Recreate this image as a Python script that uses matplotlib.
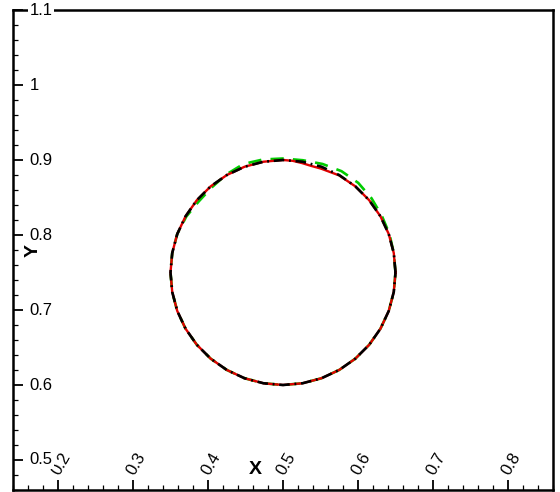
"""Interface shape comparison plot (Tecplot style)."""

import matplotlib

matplotlib.use("Agg")

import matplotlib.pyplot as plt
from matplotlib.ticker import MultipleLocator

plt.rcParams["font.family"] = ["Liberation Sans", "DejaVu Sans"]

# Black dash-dot curve (reference circle)
black_x = [0.65, 0.6477, 0.6410, 0.6299, 0.6149, 0.5964, 0.5750, 0.5513, 0.5260, 0.5,
           0.4740, 0.4487, 0.4250, 0.4036, 0.3851, 0.3701, 0.3590, 0.3523, 0.35,
           0.3523, 0.3590, 0.3701, 0.3851, 0.4036, 0.4250, 0.4487, 0.4740, 0.5,
           0.5260, 0.5513, 0.5750, 0.5964, 0.6149, 0.6299, 0.6410, 0.6477, 0.65]
black_y = [0.75, 0.7760, 0.8013, 0.8250, 0.8464, 0.8649, 0.8799, 0.8910, 0.8977, 0.9,
           0.8977, 0.8910, 0.8799, 0.8649, 0.8464, 0.8250, 0.8013, 0.7760, 0.75,
           0.7240, 0.6987, 0.6750, 0.6536, 0.6351, 0.6201, 0.6090, 0.6023, 0.6,
           0.6023, 0.6090, 0.6201, 0.6351, 0.6536, 0.6750, 0.6987, 0.7240, 0.75]

# Green dashed curve
green_x = [0.65, 0.6477, 0.6419, 0.6316, 0.6180, 0.6003, 0.5780, 0.5527, 0.5264, 0.5,
           0.4734, 0.4473, 0.4245, 0.4049, 0.3874, 0.3710, 0.3590, 0.3523, 0.35,
           0.3523, 0.3590, 0.3701, 0.3851, 0.4036, 0.4250, 0.4487, 0.4740, 0.5,
           0.5260, 0.5513, 0.5750, 0.5964, 0.6149, 0.6299, 0.6410, 0.6477, 0.65]
green_y = [0.75, 0.7760, 0.8016, 0.8260, 0.8490, 0.8695, 0.8851, 0.8947, 0.8997, 0.902,
           0.9007, 0.8947, 0.8808, 0.8634, 0.8445, 0.8245, 0.8013, 0.7760, 0.75,
           0.7240, 0.6987, 0.6750, 0.6536, 0.6351, 0.6201, 0.6090, 0.6023, 0.6,
           0.6023, 0.6090, 0.6201, 0.6351, 0.6536, 0.6750, 0.6987, 0.7240, 0.75]

# Red solid curve (small dent on the upper right)
red_x = [0.65, 0.6477, 0.6410, 0.6299, 0.6149, 0.5964, 0.5748, 0.5504, 0.5380, 0.5257,
         0.5130, 0.5, 0.4740, 0.4487, 0.4250, 0.4036, 0.3851, 0.3701, 0.3590, 0.3523,
         0.35, 0.3523, 0.3590, 0.3701, 0.3851, 0.4036, 0.4250, 0.4487, 0.4740, 0.5,
         0.5260, 0.5513, 0.5750, 0.5964, 0.6149, 0.6299, 0.6410, 0.6477, 0.65]
red_y = [0.75, 0.7760, 0.8013, 0.8250, 0.8464, 0.8649, 0.8795, 0.8886, 0.8920, 0.8958,
         0.8989, 0.9, 0.8977, 0.8910, 0.8799, 0.8649, 0.8464, 0.8250, 0.8013, 0.7760,
         0.75, 0.7240, 0.6987, 0.6750, 0.6536, 0.6351, 0.6201, 0.6090, 0.6023, 0.6,
         0.6023, 0.6090, 0.6201, 0.6351, 0.6536, 0.6750, 0.6987, 0.7240, 0.75]

x_ticks = [0.2, 0.3, 0.4, 0.5, 0.6, 0.7, 0.8]
x_tick_labels = ["0.2", "0.3", "0.4", "0.5", "0.6", "0.7", "0.8"]
y_ticks = [0.5, 0.6, 0.7, 0.8, 0.9, 1.0, 1.1]
y_tick_labels = ["0.5", "0.6", "0.7", "0.8", "0.9", "1", "1.1"]

fig = plt.figure(figsize=(5.6, 4.92), dpi=100)
ax = fig.add_axes([13 / 560, 2 / 492, 540 / 560, 480 / 492])
ax.set_xlim(0.14, 0.86)
ax.set_ylim(0.46, 1.1)

ax.plot(green_x, green_y, color="#00cc00", linewidth=1.9,
        linestyle=(0, (5, 3.5)), zorder=2)
ax.plot(red_x, red_y, color="#e00000", linewidth=1.7, zorder=3)
ax.plot(black_x, black_y, color="black", linewidth=1.9,
        linestyle=(0, (4, 1.8, 0.7, 1.8)), zorder=4)

for side in ax.spines.values():
    side.set_linewidth(1.8)

ax.set_xticks(x_ticks)
ax.set_yticks(y_ticks)
ax.xaxis.set_minor_locator(MultipleLocator(0.02))
ax.yaxis.set_minor_locator(MultipleLocator(0.02))
ax.tick_params(which="both", direction="in", top=False, right=False,
               labelbottom=False, labelleft=False)
ax.tick_params(which="major", length=7.5, width=1.3)
ax.tick_params(which="minor", length=3.8, width=0.9)

xform_x = ax.get_xaxis_transform()
for tick, label in zip(x_ticks, x_tick_labels):
    ax.text(tick - 0.003, 0.033, label, transform=xform_x, rotation=60,
            rotation_mode="anchor", ha="left", va="center", fontsize=12)

xform_y = ax.get_yaxis_transform()
for tick, label in zip(y_ticks, y_tick_labels):
    ax.text(0.031, tick, label, transform=xform_y, ha="left", va="center",
            fontsize=12, zorder=6, clip_on=False,
            bbox=dict(facecolor="white", edgecolor="none", pad=1.0))

ax.text(0.463, 0.042, "X", transform=xform_x, ha="center", va="center",
        fontsize=14, fontweight="bold")
ax.text(0.037, 0.78, "Y", transform=xform_y, ha="center", va="center",
        rotation=90, fontsize=14, fontweight="bold")

fig.savefig("out.png", dpi=100)
plt.close(fig)
